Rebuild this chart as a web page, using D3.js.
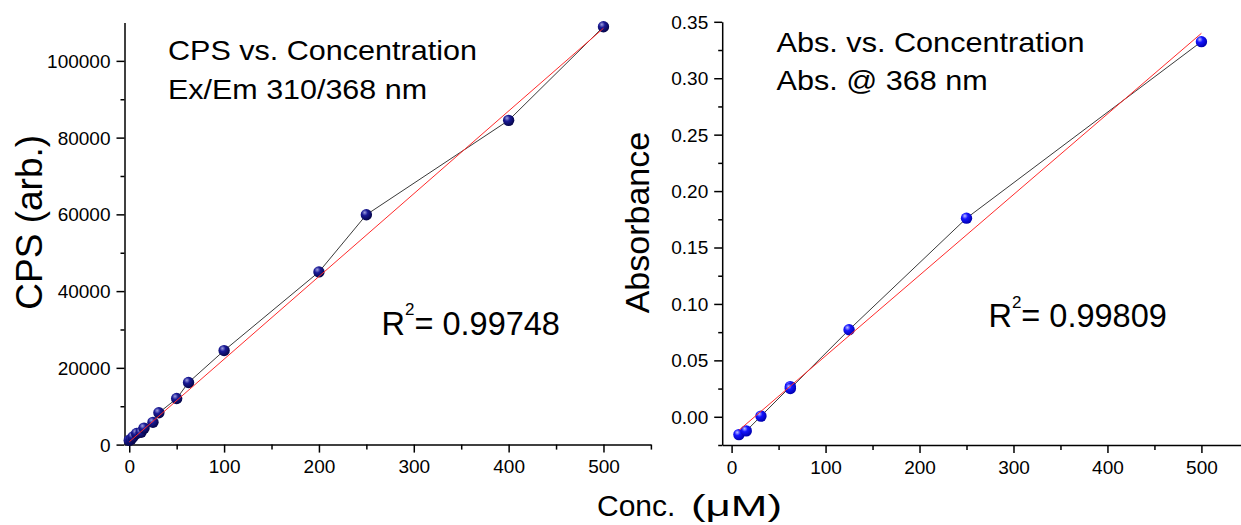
<!DOCTYPE html>
<html>
<head>
<meta charset="utf-8">
<script src="https://cdn.jsdelivr.net/npm/d3@7/dist/d3.min.js"></script>
<style>
  html, body { margin: 0; padding: 0; background: #fff; }
  svg { display: block; }
  text { font-family: "Liberation Sans", Arial, sans-serif; fill: #000; }
</style>
</head>
<body>
<svg id="chart" width="1241" height="525"></svg>
<script>
// ---------- DATA ----------
// Left panel: fluorescence CPS vs concentration
const cpsConc = [0, 1.95, 3.9, 7.8, 12.5, 15.6, 25, 31.25, 50, 62.5, 100, 200, 250, 400, 500];
const cpsValues = [1100, 1400, 2000, 2900, 3200, 4300, 5800, 8300, 12000, 16200, 24500, 45000, 59900, 84500, 108900];
const cpsFitConc = [0, 500];
const cpsFitValues = [700, 108500];
const cpsXTicks = [0, 100, 200, 300, 400, 500];
const cpsXMinor = [50, 150, 250, 350, 450, 550];
const cpsYTicks = [0, 20000, 40000, 60000, 80000, 100000];
const cpsYMinor = [10000, 30000, 50000, 70000, 90000];
const cpsTitle = ["CPS vs. Concentration", "Ex/Em 310/368 nm"];
const cpsR2 = "0.99748";

// Right panel: absorbance vs concentration
const absConc = [7.8, 15.6, 31.25, 62.5, 62.5, 125, 250, 500];
const absValues = [-0.0158, -0.0125, 0.0006, 0.0267, 0.0250, 0.0771, 0.1760, 0.3324];
const absFitConc = [8, 500];
const absFitValues = [-0.0118, 0.3398];
const absXTicks = [0, 100, 200, 300, 400, 500];
const absXMinor = [50, 150, 250, 350, 450, 550];
const absYTicks = [0.00, 0.05, 0.10, 0.15, 0.20, 0.25, 0.30, 0.35];
const absYMinor = [-0.025, 0.025, 0.075, 0.125, 0.175, 0.225, 0.275, 0.325];
const absTitle = ["Abs. vs. Concentration", "Abs. @ 368 nm"];
const absR2 = "0.99809";

// ---------- DRAWING ----------
const svg = d3.select("#chart");
const defs = svg.append("defs");

function sphereGradient(id, hi, mid, lo) {
  const g = defs.append("radialGradient").attr("id", id)
    .attr("cx", "38%").attr("cy", "35%").attr("r", "65%").attr("fx", "35%").attr("fy", "30%");
  g.append("stop").attr("offset", "0%").attr("stop-color", hi);
  g.append("stop").attr("offset", "40%").attr("stop-color", mid);
  g.append("stop").attr("offset", "100%").attr("stop-color", lo);
}
sphereGradient("sphDark", "#a0a0e0", "#1a1a96", "#06064a");
sphereGradient("sphBlue", "#c0c0ff", "#1414ff", "#0000b0");

function drawPanel(cfg) {
  const x = d3.scaleLinear().domain(cfg.xDomain).range(cfg.xRange);
  const y = d3.scaleLinear().domain(cfg.yDomain).range(cfg.yRange);
  const g = svg.append("g");
  const xAxisY = cfg.yRange[0];
  const yAxisX = cfg.xRange[0];

  // Minor ticks
  g.append("g").attr("transform", `translate(0,${xAxisY})`)
    .call(d3.axisBottom(x).tickValues(cfg.xMinor).tickSize(5).tickSizeOuter(0).tickFormat(""))
    .call(s => s.select(".domain").remove());
  g.append("g").attr("transform", `translate(${yAxisX},0)`)
    .call(d3.axisLeft(y).tickValues(cfg.yMinor).tickSize(4).tickSizeOuter(0).tickFormat(""))
    .call(s => s.select(".domain").remove());

  // Major axes
  const xa = g.append("g").attr("transform", `translate(0,${xAxisY})`)
    .call(d3.axisBottom(x).tickValues(cfg.xTicks).tickSize(8).tickSizeOuter(0).tickPadding(6)
      .tickFormat(d3.format("d")));
  const ya = g.append("g").attr("transform", `translate(${yAxisX},0)`)
    .call(d3.axisLeft(y).tickValues(cfg.yTicks).tickSize(8).tickSizeOuter(0).tickPadding(6)
      .tickFormat(cfg.yFormat));
  g.selectAll(".tick line, .domain").attr("stroke", "#000").attr("stroke-width", 1.5);
  g.selectAll(".tick text").attr("font-size", 19).attr("font-family", '"Liberation Sans", Arial, sans-serif').attr("fill", "#000");
  ya.selectAll(".tick text").attr("dy", "0.34em");
  xa.selectAll(".tick text").attr("dy", "0.78em");

  // Connecting line
  const pts = cfg.xs.map((v, i) => [v, cfg.ys[i]]);
  g.append("path").datum(pts)
    .attr("fill", "none").attr("stroke", "#3a3a3a").attr("stroke-width", 1)
    .attr("d", d3.line().x(d => x(d[0])).y(d => y(d[1])));

  // Markers
  g.selectAll("circle.pt").data(pts).enter().append("circle")
    .attr("class", "pt")
    .attr("cx", d => x(d[0])).attr("cy", d => y(d[1])).attr("r", 5.7)
    .attr("fill", `url(#${cfg.grad})`);

  // Fit line
  const fit = cfg.fitX.map((v, i) => [v, cfg.fitY[i]]);
  g.append("path").datum(fit)
    .attr("fill", "none").attr("stroke", "#ff2a2a").attr("stroke-width", 1)
    .attr("d", d3.line().x(d => x(d[0])).y(d => y(d[1])));

  // Titles
  cfg.title.forEach((t, i) => {
    g.append("text").attr("x", cfg.titlePos[0]).attr("y", cfg.titlePos[1] + i * cfg.titleGap)
      .attr("font-size", cfg.titleSize)
      .attr("textLength", cfg.titleLen[i]).attr("lengthAdjust", "spacingAndGlyphs")
      .text(t);
  });

  // R^2
  const r = g.append("text").attr("x", cfg.r2Pos[0]).attr("y", cfg.r2Pos[1]).attr("font-size", 32.5);
  r.append("tspan").text("R");
  r.append("tspan").attr("font-size", 17).attr("dy", -19.5).text("2");
  r.append("tspan").attr("dy", 19.5).text("= " + cfg.r2);

  // Y axis title
  g.append("text")
    .attr("transform", `translate(${cfg.yTitlePos[0]},${cfg.yTitlePos[1]}) rotate(-90)`)
    .attr("text-anchor", "middle").attr("font-size", cfg.yTitleSize)
    .text(cfg.yTitle);
}

drawPanel({
  xDomain: [-5, 550], xRange: [124.5, 650.9],
  yDomain: [0, 110000], yRange: [444.6, 22.5],
  xTicks: cpsXTicks, xMinor: cpsXMinor, yTicks: cpsYTicks, yMinor: cpsYMinor,
  yFormat: d3.format("d"),
  xs: cpsConc, ys: cpsValues, fitX: cpsFitConc, fitY: cpsFitValues,
  grad: "sphDark",
  title: cpsTitle, titlePos: [168, 60.3], titleGap: 38.5, titleSize: 27.5, titleLen: [309, 259],
  r2: cpsR2, r2Pos: [381.5, 334.5],
  yTitle: "CPS (arb.)", yTitlePos: [42, 222.3], yTitleSize: 37
});

drawPanel({
  xDomain: [-10, 550], xRange: [722.2, 1248.4],
  yDomain: [-0.025, 0.35], yRange: [445, 21.8],
  xTicks: absXTicks, xMinor: absXMinor, yTicks: absYTicks, yMinor: absYMinor,
  yFormat: d3.format(".2f"),
  xs: absConc, ys: absValues, fitX: absFitConc, fitY: absFitValues,
  grad: "sphBlue",
  title: absTitle, titlePos: [776.6, 51.9], titleGap: 37.8, titleSize: 28, titleLen: [308, 211],
  r2: absR2, r2Pos: [988.4, 327.4],
  yTitle: "Absorbance", yTitlePos: [649, 222.6], yTitleSize: 34
});

// Shared x-axis title
svg.append("text").attr("x", 597).attr("y", 515.5).attr("font-size", 30).text("Conc.");
svg.append("text").attr("x", 691).attr("y", 515.5).attr("font-size", 30)
  .attr("textLength", 91).attr("lengthAdjust", "spacingAndGlyphs").text("(\u03BCM)");
</script>
</body>
</html>
